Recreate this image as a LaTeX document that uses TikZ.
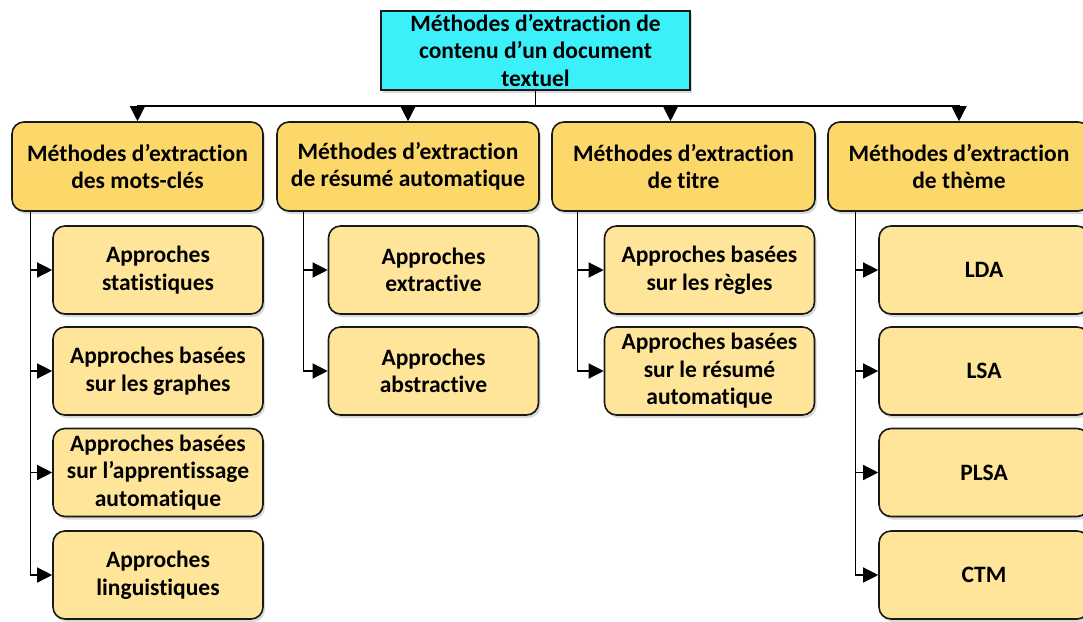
\documentclass[tikz,border=0pt]{standalone}
\usepackage{fontspec}
\setmainfont{Carlito}[Ligatures=NoCommon]
\usetikzlibrary{arrows.meta,shadows,calc}
\definecolor{topcyan}{RGB}{60,240,250}
\definecolor{gold}{RGB}{252,216,106}
\definecolor{pale}{RGB}{254,229,153}
\definecolor{edge}{RGB}{25,25,25}
\begin{document}
\begin{tikzpicture}[x=1pt,y=-1pt,
  box/.style={draw=edge, line width=1.6pt, align=center, inner sep=0pt,
    font=\fontsize{23.5}{27.5}\selectfont\bfseries,
    drop shadow={shadow xshift=2pt, shadow yshift=-3pt, opacity=0.3}},
  rootbox/.style={box, fill=topcyan, minimum width=309pt, minimum height=79pt},
  methbox/.style={box, fill=gold, rounded corners=12pt, minimum height=89pt},
  apprbox/.style={box, fill=pale, rounded corners=12pt, minimum width=210pt, minimum height=88pt},
  link/.style={draw=black, line width=1.3pt},
  arr/.style={link, -{Triangle[length=15pt,width=15pt]}}]
\useasboundingbox (0,0) rectangle (1083,621);
\clip (0,0) rectangle (1083,621);

% root
\node[rootbox] (root) at (535.5,50.5) {Méthodes d’extraction de\\contenu d’un document\\textuel};

% first level: method families
\node[methbox, minimum width=251pt] (k1) at (137.5,166.5) {Méthodes d’extraction\\des mots-clés};
\node[methbox, minimum width=262pt] (k2) at (408,166.5) {Méthodes d’extraction\\de résumé automatique};
\node[methbox, minimum width=263pt] (k3) at (683.5,166.5) {Méthodes d’extraction\\de titre};
\node[methbox, minimum width=262pt] (k4) at (959,166.5) {Méthodes d’extraction\\de thème};

% second level: approaches
\node[apprbox] (a1) at (158,270) {Approches\\statistiques};
\node[apprbox] (a2) at (158,371) {Approches basées\\sur les graphes};
\node[apprbox] (a3) at (158,472.5) {Approches basées\\sur l’apprentissage\\automatique};
\node[apprbox] (a4) at (158,575) {Approches\\linguistiques};

\node[apprbox] (b1) at (433.5,270) {Approches\\extractive};
\node[apprbox] (b2) at (433.5,371) {Approches\\abstractive};

\node[apprbox] (c1) at (709.5,270) {Approches basées\\sur les règles};
\node[apprbox] (c2) at (709.5,371) {Approches basées\\sur le résumé\\automatique};

\node[apprbox] (d1) at (984,270) {LDA};
\node[apprbox] (d2) at (984,371) {LSA};
\node[apprbox] (d3) at (984,472.5) {PLSA};
\node[apprbox] (d4) at (984,575) {CTM};

% bus from the root to the families
\coordinate (bus) at (535.5,106);
\draw[link] (root.south) -- (bus);
\draw[arr] (bus) -| (k1.north);
\draw[arr] (bus) -| (k2.north);
\draw[arr] (bus) -| ([xshift=-13pt]k3.north);
\draw[arr] (bus) -| (k4.north);

% trunks from the families to the approaches
\foreach \c in {a1,a2,a3,a4} \draw[arr] ([xshift=19pt]k1.south west) |- (\c.west);
\foreach \c in {b1,b2} \draw[arr] ([xshift=27pt]k2.south west) |- (\c.west);
\foreach \c in {c1,c2} \draw[arr] ([xshift=26pt]k3.south west) |- (\c.west);
\foreach \c in {d1,d2,d3,d4} \draw[arr] ([xshift=28pt]k4.south west) |- (\c.west);
\end{tikzpicture}
\end{document}
